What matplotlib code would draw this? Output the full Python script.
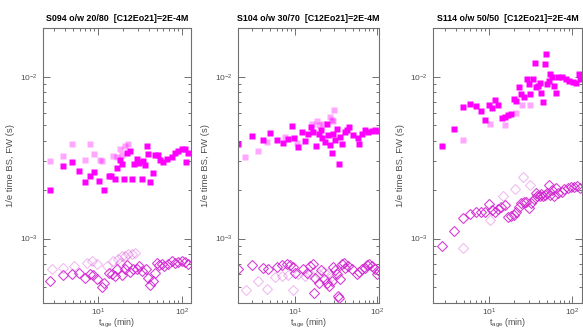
import matplotlib
matplotlib.use("Agg")
import matplotlib.pyplot as plt
from matplotlib.ticker import LogLocator, NullFormatter

plt.rcParams['font.family'] = ['Liberation Sans', 'DejaVu Sans']

titles = ["S094 o/w 20/80  [C12Eo21]=2E-4M",
          "S104 o/w 30/70  [C12Eo21]=2E-4M",
          "S114 o/w 50/50  [C12Eo21]=2E-4M"]
ylabel = "1/e time BS, FW (s)"
xlabel = r"t$_{\mathregular{age}}$ (min)"

# ---------------- S094 ----------------
s094_bs_t = [2.7, 3.8, 4.86, 5.9, 7.0, 8.0, 9.0, 10.1, 11.9, 13.3, 14.4, 15.9, 16.9, 18.4, 19.1,
             20.4, 22.3, 24, 25.1, 27, 28.9, 31, 33, 34.6, 36.2, 37.9, 39.7, 41.5, 44.8, 47.8,
             52, 54.8, 60, 65.6, 75, 82, 89, 99, 108, 113, 118]
s094_bs_v = [2.0e-3, 2.8e-3, 2.98e-3, 2.6e-3, 2.23e-3, 2.44e-3, 2.59e-3, 2.28e-3, 2.0e-3, 2.44e-3,
             2.44e-3, 2.33e-3, 2.72e-3, 3.08e-3, 2.87e-3, 2.33e-3, 3.38e-3, 3.5e-3, 2.33e-3, 2.87e-3,
             3.1e-3, 2.92e-3, 2.35e-3, 3.0e-3, 2.84e-3, 3.72e-3, 3.35e-3, 2.25e-3, 2.54e-3, 3.27e-3,
             3.27e-3, 3.08e-3, 2.98e-3, 3.1e-3, 3.2e-3, 3.38e-3, 3.5e-3, 3.6e-3, 3.6e-3, 2.98e-3, 3.4e-3]
s094_bs_faint_t = [2.68, 3.8, 4.86, 7.0, 8.0, 9.0, 10.4, 11.0, 15.2, 16.7, 18.2, 19.1, 21, 23]
s094_bs_faint_v = [3.0e-3, 3.23e-3, 3.83e-3, 3.08e-3, 3.83e-3, 3.33e-3, 3.08e-3, 3.0e-3, 3.23e-3,
                   3.2e-3, 3.6e-3, 3.27e-3, 3.72e-3, 3.83e-3]
s094_fw_t = [2.7, 3.8, 4.86, 5.9, 7.0, 8.0, 8.8, 9.8, 11.0, 11.8, 13.3, 14.5, 15.9, 16.9, 19.1, 21,
             22.3, 24, 26.3, 28.9, 31, 33, 37, 39.7, 41.5, 44.8, 47.8, 50, 53.5, 57, 61, 69, 75,
             82, 89, 99, 108, 118]
s094_fw_v = [5.47e-4, 5.93e-4, 6.07e-4, 6.1e-4, 5.74e-4, 6.07e-4, 5.93e-4, 5.66e-4, 4.99e-4, 5.35e-4,
             6.1e-4, 6.07e-4, 5.87e-4, 6.52e-4, 5.93e-4, 6.52e-4, 6.83e-4, 6.2e-4, 6.45e-4, 6.52e-4,
             6.8e-4, 6.3e-4, 6.45e-4, 5.74e-4, 5.15e-4, 5.47e-4, 6.1e-4, 7.1e-4, 6.83e-4, 6.93e-4,
             6.8e-4, 6.93e-4, 7.26e-4, 7.1e-4, 7.15e-4, 7.26e-4, 7.15e-4, 6.93e-4]
s094_fw_faint_t = [2.8, 3.8, 5.1, 7.3, 8.4, 9.6, 12.7, 15.2, 17.4, 18.2, 19.1, 21, 23, 25, 27.5]
s094_fw_faint_v = [6.45e-4, 6.6e-4, 6.8e-4, 7.1e-4, 7.26e-4, 7.0e-4, 6.8e-4, 7.26e-4, 7.43e-4,
                   7.1e-4, 7.8e-4, 7.8e-4, 8.0e-4, 8.0e-4, 8.1e-4]

# ---------------- S104 ----------------
s104_bs_t = [2.04, 3.0, 4.1, 4.96, 5.98, 7.2, 8.3, 9.1, 9.8, 11, 12, 13.2, 14.5, 15.6, 16.7, 17.9,
             19.3, 20.8, 21.5, 23.2, 24.3, 25.5, 26.7, 28, 29.3, 30.7, 32.2, 33.8, 35.4, 37, 40,
             42.7, 45.5, 51.3, 59, 60, 65, 71, 78, 86, 94, 102]
s104_bs_v = [3.86e-3, 4.28e-3, 4.05e-3, 4.49e-3, 4.05e-3, 3.9e-3, 4.1e-3, 4.94e-3, 4.2e-3, 3.66e-3,
             4.55e-3, 4.0e-3, 4.45e-3, 4.9e-3, 4.55e-3, 3.73e-3, 4.45e-3, 4.7e-3, 4.2e-3, 3.96e-3,
             5.13e-3, 4.35e-3, 3.77e-3, 3.36e-3, 4.45e-3, 4.05e-3, 4.78e-3, 2.87e-3, 4.24e-3, 3.86e-3,
             4.55e-3, 4.7e-3, 4.9e-3, 4.35e-3, 4.2e-3, 3.83e-3, 4.45e-3, 4.7e-3, 4.55e-3, 4.65e-3,
             4.7e-3, 4.65e-3]
s104_bs_faint_t = [2.46, 3.5, 4.5, 7.6, 10.5, 16, 18.4, 19.3, 22, 26.7, 28.5, 29.3, 29.9]
s104_bs_faint_v = [3.17e-3, 3.5e-3, 3.96e-3, 4.24e-3, 3.9e-3, 5.13e-3, 5.3e-3, 5.0e-3, 5.13e-3,
                   5.63e-3, 5.4e-3, 5.3e-3, 6.25e-3]
s104_fw_t = [2.04, 3.0, 4.1, 4.7, 6.0, 6.9, 7.9, 8.7, 9.5, 10, 12.6, 13.9, 15.2, 16.3, 17.5, 17.2,
             19.3, 20.8, 22.2, 24.3, 26, 28, 29.3, 30.7, 32.2, 33, 34, 35.4, 37, 38.9, 40.7, 44.6,
             49, 57, 60, 65, 70, 75, 80, 86, 93, 99, 104]
s104_fw_v = [6.45e-4, 6.83e-4, 6.6e-4, 6.45e-4, 6.7e-4, 6.83e-4, 6.93e-4, 6.83e-4, 6.7e-4, 6.1e-4,
             6.45e-4, 6.1e-4, 6.77e-4, 6.93e-4, 5.74e-4, 4.58e-4, 5.35e-4, 6.4e-4, 5.66e-4, 5.35e-4,
             5.1e-4, 5.47e-4, 6.7e-4, 6.4e-4, 6.0e-4, 4.43e-4, 4.27e-4, 5.66e-4, 6.93e-4, 7.1e-4,
             6.6e-4, 6.77e-4, 6.45e-4, 6.0e-4, 6.2e-4, 6.45e-4, 6.6e-4, 6.83e-4, 6.93e-4, 6.77e-4,
             6.45e-4, 6.0e-4, 6.3e-4]
s104_fw_faint_t = [2.5, 3.5, 4.5, 5.7, 6.9, 8.3, 9.5, 11, 13.2, 15.2, 19.3, 22.2, 25.5, 28]
s104_fw_faint_v = [4.82e-4, 5.47e-4, 4.9e-4, 5.8e-4, 5.87e-4, 5.93e-4, 4.82e-4, 6.0e-4, 5.87e-4,
                   6.0e-4, 6.0e-4, 6.2e-4, 6.1e-4, 5.87e-4]

# ---------------- S114 ----------------
s114_bs_t = [2.74, 3.83, 4.86, 5.94, 7.0, 8.0, 9.1, 10, 10.8, 11.9, 12.9, 14.2, 15.6, 17, 18.6,
             19.8, 21.3, 23, 24.5, 26, 28.6, 30.2, 31.3, 33.7, 35.5, 37, 38.6, 40.5, 42.4, 44.2,
             46.4, 47.7, 49.5, 52, 54.3, 57.4, 59.5, 62.8, 66.8, 75, 84, 92, 101, 111, 119, 124]
s114_bs_v = [3.74e-3, 4.78e-3, 6.49e-3, 6.79e-3, 6.55e-3, 6.12e-3, 5.42e-3, 6.65e-3, 6.43e-3,
             7.19e-3, 6.65e-3, 5.58e-3, 5.63e-3, 5.77e-3, 5.85e-3, 7.3e-3, 7.12e-3, 8.6e-3, 7.83e-3,
             7.45e-3, 9.68e-3, 9.0e-3, 7.83e-3, 9.68e-3, 1.21e-2, 8.6e-3, 8.8e-3, 9.1e-3, 7.9e-3,
             6.96e-3, 1.2e-2, 1.39e-2, 9.0e-3, 9.45e-3, 1.04e-2, 9.9e-3, 8.8e-3, 7.9e-3, 9.9e-3,
             9.9e-3, 9.68e-3, 9.45e-3, 9.23e-3, 9.1e-3, 1.04e-2, 9.68e-3]
s114_bs_faint_t = [4.86, 10.3, 15.5, 21, 25.2, 30.7]
s114_bs_faint_v = [4.05e-3, 5.13e-3, 5.0e-3, 6.0e-3, 6.65e-3, 6.65e-3]
s114_fw_t = [2.74, 3.83, 4.86, 5.94, 7.0, 8.0, 8.9, 10, 10.8, 11.8, 12.7, 14, 15.6, 17, 18.6, 19.8,
             21.3, 23, 24.5, 26, 28, 30.2, 32.2, 34.5, 36.2, 37.6, 40.5, 42.4, 44.2, 46.4, 49.5, 52,
             54.3, 57.4, 59.5, 62.8, 66.8, 75, 80, 88, 96, 105, 114, 124]
s114_fw_v = [8.97e-4, 1.12e-3, 1.34e-3, 1.42e-3, 1.46e-3, 1.46e-3, 1.45e-3, 1.63e-3, 1.5e-3,
             1.47e-3, 1.52e-3, 1.56e-3, 1.61e-3, 1.36e-3, 1.37e-3, 1.4e-3, 1.47e-3, 1.56e-3, 1.65e-3,
             1.69e-3, 1.69e-3, 1.54e-3, 1.65e-3, 1.75e-3, 1.92e-3, 1.82e-3, 1.83e-3, 1.89e-3,
             1.82e-3, 1.86e-3, 1.9e-3, 2.14e-3, 1.86e-3, 2.0e-3, 1.83e-3, 2.05e-3, 1.9e-3, 1.95e-3,
             2.02e-3, 2.05e-3, 2.09e-3, 2.08e-3, 2.11e-3, 2.05e-3]
s114_fw_faint_t = [4.86, 10.3, 14.8, 20.3, 25.6, 30.7, 37.6]
s114_fw_faint_v = [8.77e-4, 1.3e-3, 1.82e-3, 2.03e-3, 2.4e-3, 2.14e-3, 1.82e-3]

xlims = [(2.2, 128), (2.02, 105), (2.15, 130)]
ylim = (4e-4, 2e-2)

panels = [
    (s094_bs_t, s094_bs_v, s094_bs_faint_t, s094_bs_faint_v,
     s094_fw_t, s094_fw_v, s094_fw_faint_t, s094_fw_faint_v),
    (s104_bs_t, s104_bs_v, s104_bs_faint_t, s104_bs_faint_v,
     s104_fw_t, s104_fw_v, s104_fw_faint_t, s104_fw_faint_v),
    (s114_bs_t, s114_bs_v, s114_bs_faint_t, s114_bs_faint_v,
     s114_fw_t, s114_fw_v, s114_fw_faint_t, s114_fw_faint_v),
]

magenta = '#FF00FF'
fw_edge = '#D020D0'
axis_grey = '#707070'
text_grey = '#505050'

fig = plt.figure(figsize=(5.83, 3.33), dpi=100)
lefts = [43, 238, 433]
rights = [191, 379, 582]
W, H = 583.0, 333.0
top_px, bot_px = 28, 303

for i, (bt, bv, bft, bfv, ft, fv, fft, ffv) in enumerate(panels):
    ax = fig.add_axes([lefts[i] / W, 1 - bot_px / H,
                       (rights[i] - lefts[i]) / W, (bot_px - top_px) / H])
    ax.set_xscale('log')
    ax.set_yscale('log')

    ax.plot(bft, bfv, 's', ms=3.8, color=magenta, alpha=0.35, mec='none')
    ax.plot(fft, ffv, 'D', ms=4.6, mfc='none', mec=fw_edge, mew=0.8, alpha=0.3)
    ax.plot(bt, bv, 's', ms=3.8, color=magenta, mec='none')
    ax.plot(ft, fv, 'D', ms=4.6, mfc='none', mec=fw_edge, mew=0.8, alpha=0.85)

    ax.set_xlim(*xlims[i])
    ax.set_ylim(*ylim)

    for s in ax.spines.values():
        s.set_color(axis_grey)
        s.set_linewidth(0.8)
    ax.xaxis.set_major_locator(LogLocator(base=10, numticks=10))
    ax.xaxis.set_minor_locator(LogLocator(base=10, subs=range(2, 10), numticks=10))
    ax.yaxis.set_major_locator(LogLocator(base=10, numticks=10))
    ax.yaxis.set_minor_locator(LogLocator(base=10, subs=range(2, 10), numticks=10))
    ax.xaxis.set_minor_formatter(NullFormatter())
    ax.yaxis.set_minor_formatter(NullFormatter())
    ax.tick_params(which='both', direction='in', top=True, right=True,
                   color=axis_grey, labelcolor=text_grey, labelsize=6, width=0.7)
    ax.tick_params(which='major', length=5)
    ax.tick_params(axis='y', which='major', pad=4)
    ax.tick_params(axis='x', which='major', pad=2.5)
    ax.tick_params(which='minor', length=2.5)

    ax.set_title(titles[i], fontsize=6.4, fontweight='bold', pad=5)
    ax.set_ylabel(ylabel, fontsize=6.8, color=text_grey, labelpad=3)
    ax.set_xlabel(xlabel, fontsize=6.4, color=text_grey, labelpad=-0.5)

fig.savefig('out.png', dpi=100)
